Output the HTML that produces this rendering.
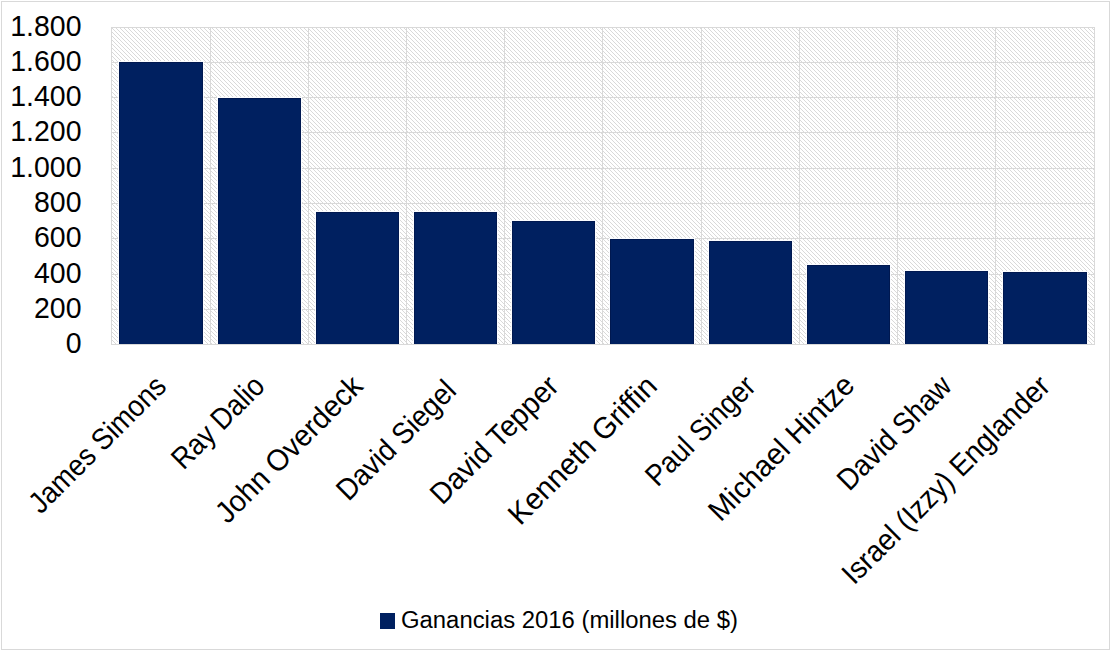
<!DOCTYPE html>
<html><head><meta charset="utf-8"><style>
html,body{margin:0;padding:0;background:#fff;width:1111px;height:651px;overflow:hidden}
svg{display:block}
text{font-family:"Liberation Sans", sans-serif;fill:#000}
</style></head><body>
<svg width="1111" height="651" viewBox="0 0 1111 651">
<defs>
<pattern id="hatch" patternUnits="userSpaceOnUse" x="0" y="0" width="4" height="4">
<rect x="0" y="0" width="4" height="4" fill="#fff"/>
<rect x="0" y="0" width="1" height="1" fill="#d9d9d9"/>
<rect x="1" y="1" width="1" height="1" fill="#d9d9d9"/>
<rect x="2" y="2" width="1" height="1" fill="#d9d9d9"/>
<rect x="3" y="3" width="1" height="1" fill="#d9d9d9"/>
</pattern>
</defs>
<rect x="0" y="0" width="1111" height="651" fill="#fff"/>
<rect x="1.5" y="1.5" width="1108" height="648" fill="none" stroke="#d9d9d9" stroke-width="1" shape-rendering="crispEdges"/>
<rect x="111" y="27" width="983" height="317" fill="url(#hatch)" shape-rendering="crispEdges"/>
<g shape-rendering="crispEdges"><rect x="111" y="27" width="1" height="318" fill="#d9d9d9"/><rect x="210" y="27" width="1" height="318" fill="#d9d9d9"/><rect x="308" y="27" width="1" height="318" fill="#d9d9d9"/><rect x="406" y="27" width="1" height="318" fill="#d9d9d9"/><rect x="504" y="27" width="1" height="318" fill="#d9d9d9"/><rect x="602" y="27" width="1" height="318" fill="#d9d9d9"/><rect x="701" y="27" width="1" height="318" fill="#d9d9d9"/><rect x="799" y="27" width="1" height="318" fill="#d9d9d9"/><rect x="897" y="27" width="1" height="318" fill="#d9d9d9"/><rect x="995" y="27" width="1" height="318" fill="#d9d9d9"/><rect x="1094" y="27" width="1" height="318" fill="#d9d9d9"/><rect x="111" y="27" width="984" height="1" fill="#d9d9d9"/><rect x="111" y="62" width="984" height="1" fill="#d9d9d9"/><rect x="111" y="97" width="984" height="1" fill="#d9d9d9"/><rect x="111" y="132" width="984" height="1" fill="#d9d9d9"/><rect x="111" y="168" width="984" height="1" fill="#d9d9d9"/><rect x="111" y="203" width="984" height="1" fill="#d9d9d9"/><rect x="111" y="238" width="984" height="1" fill="#d9d9d9"/><rect x="111" y="274" width="984" height="1" fill="#d9d9d9"/><rect x="111" y="309" width="984" height="1" fill="#d9d9d9"/><rect x="111" y="344" width="984" height="1" fill="#d9d9d9"/></g>
<g shape-rendering="crispEdges"><rect x="118" y="61" width="86" height="283" fill="#fbfcff"/><rect x="119" y="62" width="84" height="282" fill="#002060"/><rect x="119" y="62" width="84" height="1" fill="#001850"/><rect x="119" y="62" width="1" height="282" fill="#001850"/><rect x="202" y="62" width="1" height="282" fill="#001850"/><rect x="217" y="97" width="85" height="247" fill="#fbfcff"/><rect x="218" y="98" width="83" height="246" fill="#002060"/><rect x="218" y="98" width="83" height="1" fill="#001850"/><rect x="218" y="98" width="1" height="246" fill="#001850"/><rect x="300" y="98" width="1" height="246" fill="#001850"/><rect x="315" y="211" width="85" height="133" fill="#fbfcff"/><rect x="316" y="212" width="83" height="132" fill="#002060"/><rect x="316" y="212" width="83" height="1" fill="#001850"/><rect x="316" y="212" width="1" height="132" fill="#001850"/><rect x="398" y="212" width="1" height="132" fill="#001850"/><rect x="413" y="211" width="85" height="133" fill="#fbfcff"/><rect x="414" y="212" width="83" height="132" fill="#002060"/><rect x="414" y="212" width="83" height="1" fill="#001850"/><rect x="414" y="212" width="1" height="132" fill="#001850"/><rect x="496" y="212" width="1" height="132" fill="#001850"/><rect x="511" y="220" width="85" height="124" fill="#fbfcff"/><rect x="512" y="221" width="83" height="123" fill="#002060"/><rect x="512" y="221" width="83" height="1" fill="#001850"/><rect x="512" y="221" width="1" height="123" fill="#001850"/><rect x="594" y="221" width="1" height="123" fill="#001850"/><rect x="609" y="238" width="86" height="106" fill="#fbfcff"/><rect x="610" y="239" width="84" height="105" fill="#002060"/><rect x="610" y="239" width="84" height="1" fill="#001850"/><rect x="610" y="239" width="1" height="105" fill="#001850"/><rect x="693" y="239" width="1" height="105" fill="#001850"/><rect x="708" y="240" width="85" height="104" fill="#fbfcff"/><rect x="709" y="241" width="83" height="103" fill="#002060"/><rect x="709" y="241" width="83" height="1" fill="#001850"/><rect x="709" y="241" width="1" height="103" fill="#001850"/><rect x="791" y="241" width="1" height="103" fill="#001850"/><rect x="806" y="264" width="85" height="80" fill="#fbfcff"/><rect x="807" y="265" width="83" height="79" fill="#002060"/><rect x="807" y="265" width="83" height="1" fill="#001850"/><rect x="807" y="265" width="1" height="79" fill="#001850"/><rect x="889" y="265" width="1" height="79" fill="#001850"/><rect x="904" y="270" width="85" height="74" fill="#fbfcff"/><rect x="905" y="271" width="83" height="73" fill="#002060"/><rect x="905" y="271" width="83" height="1" fill="#001850"/><rect x="905" y="271" width="1" height="73" fill="#001850"/><rect x="987" y="271" width="1" height="73" fill="#001850"/><rect x="1002" y="271" width="86" height="73" fill="#fbfcff"/><rect x="1003" y="272" width="84" height="72" fill="#002060"/><rect x="1003" y="272" width="84" height="1" fill="#001850"/><rect x="1003" y="272" width="1" height="72" fill="#001850"/><rect x="1086" y="272" width="1" height="72" fill="#001850"/></g>
<text transform="translate(81.5,36.0) scale(0.95,1)" font-size="30" text-anchor="end">1.800</text><text transform="translate(81.5,71.0) scale(0.95,1)" font-size="30" text-anchor="end">1.600</text><text transform="translate(81.5,106.0) scale(0.95,1)" font-size="30" text-anchor="end">1.400</text><text transform="translate(81.5,141.0) scale(0.95,1)" font-size="30" text-anchor="end">1.200</text><text transform="translate(81.5,177.0) scale(0.95,1)" font-size="30" text-anchor="end">1.000</text><text transform="translate(81.5,212.0) scale(0.95,1)" font-size="30" text-anchor="end">800</text><text transform="translate(81.5,247.0) scale(0.95,1)" font-size="30" text-anchor="end">600</text><text transform="translate(81.5,283.0) scale(0.95,1)" font-size="30" text-anchor="end">400</text><text transform="translate(81.5,318.0) scale(0.95,1)" font-size="30" text-anchor="end">200</text><text transform="translate(81.5,353.0) scale(0.95,1)" font-size="30" text-anchor="end">0</text>
<text transform="translate(167.85,387.95) rotate(-45) scale(0.9136,1)" font-size="30" text-anchor="end">James Simons</text><text transform="translate(266.35,387.95) rotate(-45) scale(0.9007,1)" font-size="30" text-anchor="end">Ray Dalio</text><text transform="translate(364.35,387.95) rotate(-45) scale(0.9586,1)" font-size="30" text-anchor="end">John Overdeck</text><text transform="translate(457.90,392.40) rotate(-45) scale(0.9200,1)" font-size="30" text-anchor="end">David Siegel</text><text transform="translate(560.35,387.95) rotate(-45) scale(0.9476,1)" font-size="30" text-anchor="end">David Tepper</text><text transform="translate(658.85,387.95) rotate(-45) scale(0.9816,1)" font-size="30" text-anchor="end">Kenneth Griffin</text><text transform="translate(757.35,387.95) rotate(-45) scale(0.9108,1)" font-size="30" text-anchor="end">Paul Singer</text><text transform="translate(856.27,387.03) rotate(-45) scale(0.9752,1)" font-size="30" text-anchor="end">Michael Hintze</text><text transform="translate(953.35,387.95) rotate(-45) scale(0.9200,1)" font-size="30" text-anchor="end">David Shaw</text><text transform="translate(1051.85,387.95) rotate(-45) scale(0.9329,1)" font-size="30" text-anchor="end">Israel (Izzy) Englander</text>
<rect x="380" y="613" width="15" height="16" fill="#002060" shape-rendering="crispEdges"/><text x="401" y="627.5" font-size="23.5" textLength="337" lengthAdjust="spacingAndGlyphs">Ganancias 2016 (millones de $)</text>
</svg></body></html>
